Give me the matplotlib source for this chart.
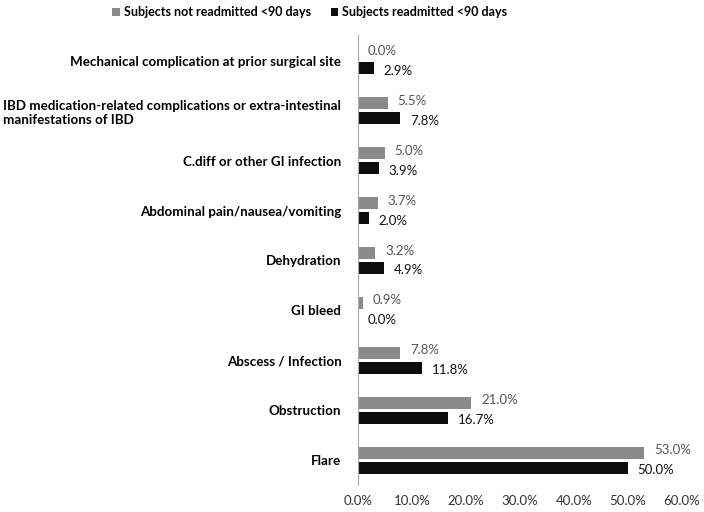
import numpy as np
import matplotlib.pyplot as plt
from matplotlib.ticker import FuncFormatter

plt.rcParams['font.family'] = ['Lato', 'DejaVu Sans']

categories = [
    "Mechanical complication at prior surgical site",
    "IBD medication-related complications or extra-intestinal\nmanifestations of IBD",
    "C.diff or other GI infection",
    "Abdominal pain/nausea/vomiting",
    "Dehydration",
    "GI bleed",
    "Abscess / Infection",
    "Obstruction",
    "Flare",
]
not_readmitted = [0.0, 5.5, 5.0, 3.7, 3.2, 0.9, 7.8, 21.0, 53.0]
readmitted = [2.9, 7.8, 3.9, 2.0, 4.9, 0.0, 11.8, 16.7, 50.0]
xticks = [0, 10, 20, 30, 40, 50, 60]

gray = "#8a8a8a"
black = "#0d0d0d"

fig = plt.figure(figsize=(7.04, 5.12), dpi=100)
ax = fig.add_axes([358 / 704, 1 - 485 / 512, (682 - 358) / 704, (485 - 35) / 512])

n = len(categories)
y = np.arange(n)[::-1].astype(float)
h = 0.24
gap = 0.03
ax.barh(y + h / 2 + gap, not_readmitted, height=h, color=gray, label="Subjects not readmitted <90 days")
ax.barh(y - h / 2 - gap, readmitted, height=h, color=black, label="Subjects readmitted <90 days")

for yi, v in zip(y, not_readmitted):
    ax.text(v + 1.8, yi + h / 2 + gap + 0.05, f"{v:.1f}%", va="center", ha="left",
            fontsize=9.5, color="#555555")
for yi, v in zip(y, readmitted):
    ax.text(v + 1.8, yi - h / 2 - gap - 0.05, f"{v:.1f}%", va="center", ha="left",
            fontsize=9.5, color="#111111")

ax.set_xlim(0, 60)
ax.set_ylim(-0.5, n - 0.5 + 0.02)
ax.set_xticks(xticks)
ax.xaxis.set_major_formatter(FuncFormatter(lambda v, p: f"{v:.1f}%"))
ax.set_yticks(y)
ax.set_yticklabels(categories, fontweight="bold", fontsize=9.6)
for t in ax.get_yticklabels():
    t.set_multialignment("left")
ax.tick_params(axis="y", length=0, pad=12)
ax.tick_params(axis="x", length=0, pad=7, labelsize=9.5, labelcolor="#333333")
for s in ["top", "right", "bottom"]:
    ax.spines[s].set_visible(False)
ax.spines["left"].set_color("#aaaaaa")

leg = fig.legend(loc="upper center", bbox_to_anchor=(0.44, 1.01), ncol=2, frameon=False,
                 fontsize=9, handlelength=0.6, handleheight=0.6, handletextpad=0.3,
                 columnspacing=1.6)
for t in leg.get_texts():
    t.set_fontweight("bold")

fig.savefig("out.png", dpi=100)
